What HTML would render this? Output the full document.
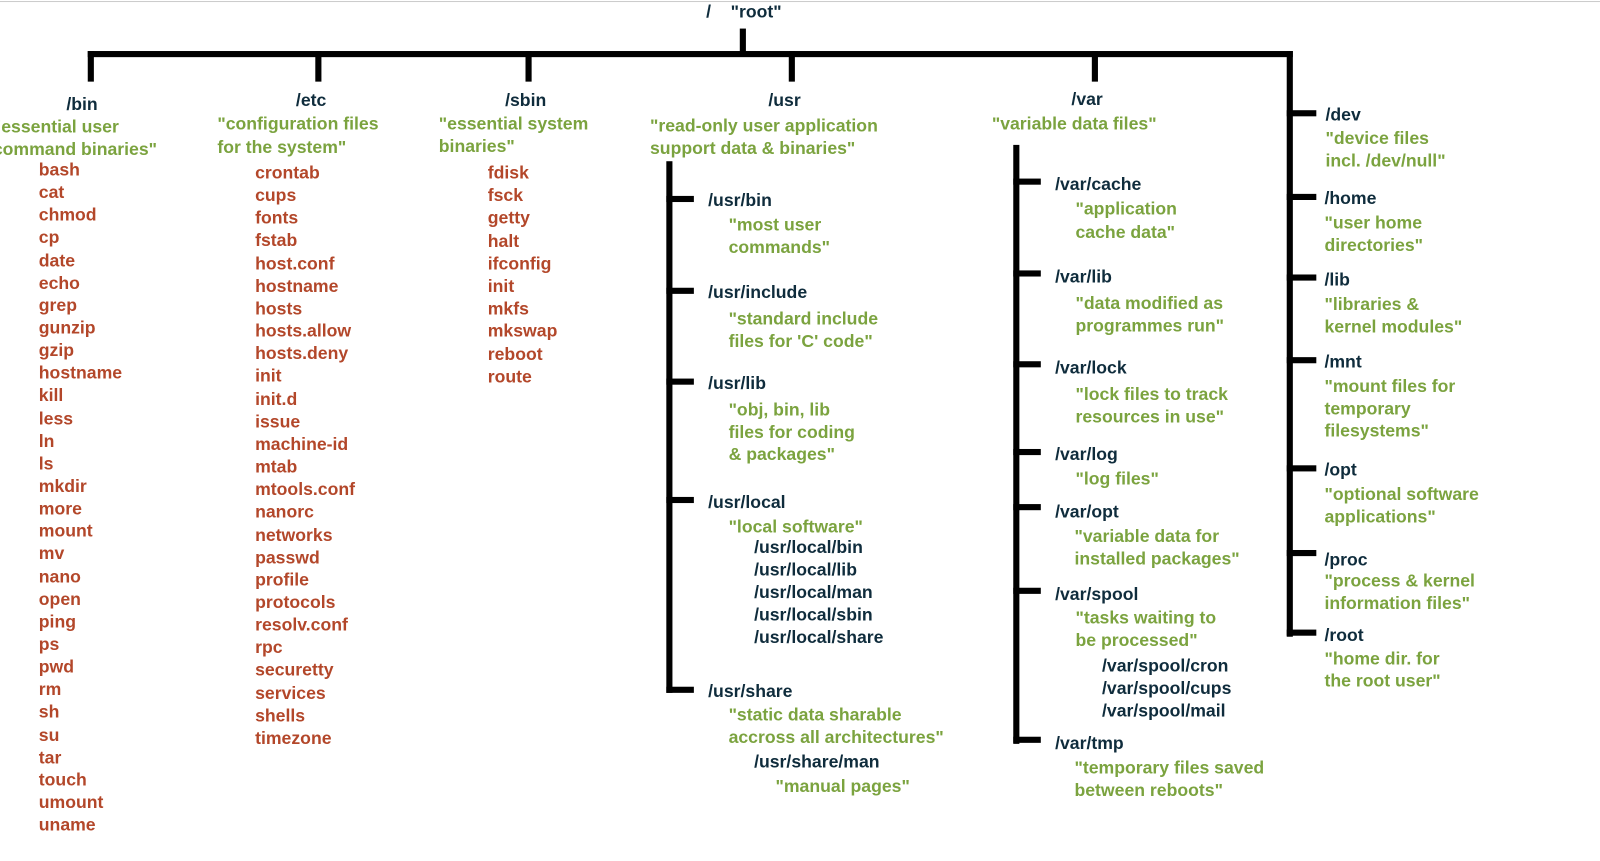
<!DOCTYPE html>
<html><head><meta charset="utf-8"><style>
body{margin:0;width:1600px;height:861px;background:#fff;position:relative;overflow:hidden;font-family:"Liberation Sans",Arial,sans-serif;font-weight:bold;font-size:17.3px}
#w{position:absolute;left:0;top:0;width:1568px;height:844px;transform:scale(1.0204);transform-origin:0 0}
#w div{position:absolute;white-space:nowrap;line-height:22px}
#t{top:1px;left:0}
.n{color:#0f2c3c}.g{color:#7ba33f}.o{color:#b3472a}
#w .b{background:#000;position:absolute}
</style></head><body>
<div id="w">
<div style="left:0;top:1px;width:1568px;height:1px;background:#ccc"></div>
<div class="b" style="left:725px;top:28px;width:6px;height:25px"></div>
<div class="b" style="left:86px;top:50px;width:1181px;height:6px"></div>
<div class="b" style="left:86px;top:50px;width:6px;height:30px"></div>
<div class="b" style="left:309px;top:50px;width:6px;height:30px"></div>
<div class="b" style="left:515px;top:50px;width:6px;height:30px"></div>
<div class="b" style="left:773px;top:50px;width:6px;height:30px"></div>
<div class="b" style="left:1070px;top:50px;width:6px;height:30px"></div>
<div class="b" style="left:1261px;top:50px;width:6px;height:574px"></div>
<div class="b" style="left:1261px;top:108px;width:29px;height:6px"></div>
<div class="b" style="left:1261px;top:190px;width:29px;height:6px"></div>
<div class="b" style="left:1261px;top:269px;width:29px;height:6px"></div>
<div class="b" style="left:1261px;top:350px;width:29px;height:6px"></div>
<div class="b" style="left:1261px;top:456px;width:29px;height:6px"></div>
<div class="b" style="left:1261px;top:539px;width:29px;height:6px"></div>
<div class="b" style="left:1261px;top:617px;width:29px;height:6px"></div>
<div class="b" style="left:653px;top:158px;width:6px;height:521px"></div>
<div class="b" style="left:653px;top:192px;width:27px;height:6px"></div>
<div class="b" style="left:653px;top:282px;width:27px;height:6px"></div>
<div class="b" style="left:653px;top:371px;width:27px;height:6px"></div>
<div class="b" style="left:653px;top:487px;width:27px;height:6px"></div>
<div class="b" style="left:653px;top:673px;width:27px;height:6px"></div>
<div class="b" style="left:993px;top:142px;width:6px;height:587px"></div>
<div class="b" style="left:993px;top:175px;width:27px;height:6px"></div>
<div class="b" style="left:993px;top:265px;width:27px;height:6px"></div>
<div class="b" style="left:993px;top:354px;width:27px;height:6px"></div>
<div class="b" style="left:993px;top:440px;width:27px;height:6px"></div>
<div class="b" style="left:993px;top:494px;width:27px;height:6px"></div>
<div class="b" style="left:993px;top:576px;width:27px;height:6px"></div>
<div class="b" style="left:993px;top:722px;width:27px;height:6px"></div>
<div id="t">
<div class="n" style="left:692px;top:-1px">/&nbsp;&nbsp;&nbsp;&nbsp;"root"</div>
<div class="n" style="left:65px;top:90px">/bin</div>
<div class="g" style="left:-7px;top:112px">"essential user</div>
<div class="g" style="left:-7px;top:134px">command binaries"</div>
<div class="o" style="left:38px;top:154px;line-height:22.14px">bash<br>cat<br>chmod<br>cp<br>date<br>echo<br>grep<br>gunzip<br>gzip<br>hostname<br>kill<br>less<br>ln<br>ls<br>mkdir<br>more<br>mount<br>mv<br>nano<br>open<br>ping<br>ps<br>pwd<br>rm<br>sh<br>su<br>tar<br>touch<br>umount<br>uname</div>
<div class="n" style="left:290px;top:86px">/etc</div>
<div class="g" style="left:213px;top:109px">"configuration files</div>
<div class="g" style="left:213px;top:132px">for the system"</div>
<div class="o" style="left:250px;top:157px;line-height:22.16px">crontab<br>cups<br>fonts<br>fstab<br>host.conf<br>hostname<br>hosts<br>hosts.allow<br>hosts.deny<br>init<br>init.d<br>issue<br>machine-id<br>mtab<br>mtools.conf<br>nanorc<br>networks<br>passwd<br>profile<br>protocols<br>resolv.conf<br>rpc<br>securetty<br>services<br>shells<br>timezone</div>
<div class="n" style="left:495px;top:86px">/sbin</div>
<div class="g" style="left:430px;top:109px">"essential system</div>
<div class="g" style="left:430px;top:131px">binaries"</div>
<div class="o" style="left:478px;top:157px;line-height:22.2px">fdisk<br>fsck<br>getty<br>halt<br>ifconfig<br>init<br>mkfs<br>mkswap<br>reboot<br>route</div>
<div class="n" style="left:753px;top:86px">/usr</div>
<div class="g" style="left:637px;top:111px">"read-only user application</div>
<div class="g" style="left:637px;top:133px">support data &amp; binaries"</div>
<div class="n" style="left:694px;top:184px">/usr/bin</div>
<div class="g" style="left:714px;top:208px">"most user</div>
<div class="g" style="left:714px;top:230px">commands"</div>
<div class="n" style="left:694px;top:274px">/usr/include</div>
<div class="g" style="left:714px;top:300px">"standard include</div>
<div class="g" style="left:714px;top:322px">files for 'C' code"</div>
<div class="n" style="left:694px;top:363px">/usr/lib</div>
<div class="g" style="left:714px;top:389px">"obj, bin, lib</div>
<div class="g" style="left:714px;top:411px">files for coding</div>
<div class="g" style="left:714px;top:433px">&amp; packages"</div>
<div class="n" style="left:694px;top:480px">/usr/local</div>
<div class="g" style="left:714px;top:504px">"local software"</div>
<div class="n" style="left:739px;top:524px">/usr/local/bin<br>/usr/local/lib<br>/usr/local/man<br>/usr/local/sbin<br>/usr/local/share</div>
<div class="n" style="left:694px;top:665px">/usr/share</div>
<div class="g" style="left:714px;top:688px">"static data sharable</div>
<div class="g" style="left:714px;top:710px">accross all architectures"</div>
<div class="n" style="left:739px;top:734px">/usr/share/man</div>
<div class="g" style="left:760px;top:758px">"manual pages"</div>
<div class="n" style="left:1050px;top:85px">/var</div>
<div class="g" style="left:972px;top:109px">"variable data files"</div>
<div class="n" style="left:1034px;top:168px">/var/cache</div>
<div class="g" style="left:1054px;top:192px">"application</div>
<div class="g" style="left:1054px;top:215px">cache data"</div>
<div class="n" style="left:1034px;top:259px">/var/lib</div>
<div class="g" style="left:1054px;top:285px">"data modified as</div>
<div class="g" style="left:1054px;top:307px">programmes run"</div>
<div class="n" style="left:1034px;top:348px">/var/lock</div>
<div class="g" style="left:1054px;top:374px">"lock files to track</div>
<div class="g" style="left:1054px;top:396px">resources in use"</div>
<div class="n" style="left:1034px;top:433px">/var/log</div>
<div class="g" style="left:1054px;top:457px">"log files"</div>
<div class="n" style="left:1034px;top:489px">/var/opt</div>
<div class="g" style="left:1053px;top:513px">"variable data for</div>
<div class="g" style="left:1053px;top:535px">installed packages"</div>
<div class="n" style="left:1034px;top:570px">/var/spool</div>
<div class="g" style="left:1054px;top:593px">"tasks waiting to</div>
<div class="g" style="left:1054px;top:615px">be processed"</div>
<div class="n" style="left:1080px;top:640px">/var/spool/cron<br>/var/spool/cups<br>/var/spool/mail</div>
<div class="n" style="left:1034px;top:716px">/var/tmp</div>
<div class="g" style="left:1053px;top:740px">"temporary files saved</div>
<div class="g" style="left:1053px;top:762px">between reboots"</div>
<div class="n" style="left:1299px;top:100px">/dev</div>
<div class="g" style="left:1299px;top:123px">"device files</div>
<div class="g" style="left:1299px;top:145px">incl. /dev/null"</div>
<div class="n" style="left:1298px;top:182px">/home</div>
<div class="g" style="left:1298px;top:206px">"user home</div>
<div class="g" style="left:1298px;top:228px">directories"</div>
<div class="n" style="left:1298px;top:262px">/lib</div>
<div class="g" style="left:1298px;top:286px">"libraries &amp;</div>
<div class="g" style="left:1298px;top:308px">kernel modules"</div>
<div class="n" style="left:1298px;top:342px">/mnt</div>
<div class="g" style="left:1298px;top:366px">"mount files for</div>
<div class="g" style="left:1298px;top:388px">temporary</div>
<div class="g" style="left:1298px;top:410px">filesystems"</div>
<div class="n" style="left:1298px;top:448px">/opt</div>
<div class="g" style="left:1298px;top:472px">"optional software</div>
<div class="g" style="left:1298px;top:494px">applications"</div>
<div class="n" style="left:1298px;top:536px">/proc</div>
<div class="g" style="left:1298px;top:557px">"process &amp; kernel</div>
<div class="g" style="left:1298px;top:579px">information files"</div>
<div class="n" style="left:1298px;top:610px">/root</div>
<div class="g" style="left:1298px;top:633px">"home dir. for</div>
<div class="g" style="left:1298px;top:655px">the root user"</div>
</div>
</div>
</body></html>
